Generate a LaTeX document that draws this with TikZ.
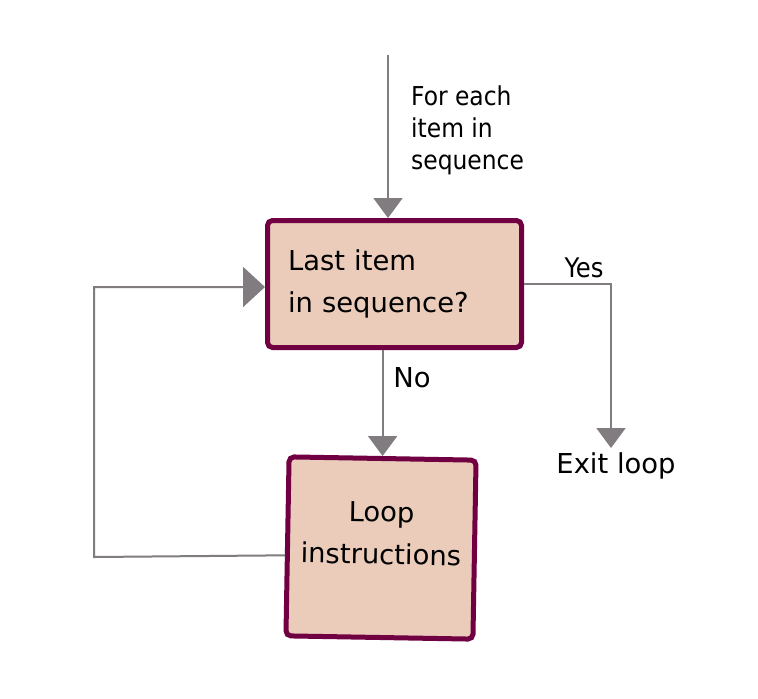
\documentclass[tikz,border=0pt]{standalone}
\usepackage{fontspec}
\setmainfont{DejaVu Sans}
\newfontfamily\condfont{DejaVu Sans Condensed}
\usetikzlibrary{arrows.meta}
\definecolor{boxfill}{RGB}{235,204,187}
\definecolor{boxline}{RGB}{112,0,66}
\definecolor{flowgray}{RGB}{128,124,128}

\begin{document}
\begin{tikzpicture}[x=1pt,y=-1pt,
    box/.style={draw=boxline,fill=boxfill,line width=5pt,rounded corners=5pt},
    flow/.style={draw=flowgray,line width=2pt,-{Triangle[length=20pt,width=29pt]}},
    lbl/.style={font=\fontsize{27.4}{32}\selectfont,inner sep=0pt}]
    \useasboundingbox [fill=white] (0,0) rectangle (758,699);
    % boxes
    \node [box,minimum width=254pt,minimum height=127pt,text width=213pt,
        inner xsep=20.5pt,align=left,font=\fontsize{27.4}{42.5}\selectfont]
        (q) at (394.5,284) {Last item\\in sequence?};
    \node [box,minimum width=187pt,minimum height=179pt,align=center,rotate=-1,
        text depth=30pt,font=\fontsize{27.4}{42.5}\selectfont]
        (l) at (381,548) {Loop\\instructions};
    % labels
    \node [lbl,anchor=west,align=left,font=\condfont\fontsize{26}{32}\selectfont]
        (each) at (411,130) {For each\\item in\\sequence};
    \node [lbl,font=\condfont\fontsize{27}{32}\selectfont] (yes) at (584,268) {Yes};
    \node [lbl] (no) at (412,378) {No};
    \coordinate (in) at (388,55);
    \coordinate (exit) at (611,448);
    \coordinate (back) at (94,557);
    \node [lbl,anchor=north] (exitlbl) at (616,452) {Exit loop};
    % connectors
    \draw [flow] (in) -- (in |- q.north);
    \draw [flow] (l.north |- q.south) -- (l.north);
    \draw [flow] (q.east) -| (exit);
    \draw [flow,-{Triangle[length=22pt,width=40pt]}]
        ([yshift=-9pt]l.west) -- (back) |- ([yshift=-3pt]q.west);
\end{tikzpicture}
\end{document}
